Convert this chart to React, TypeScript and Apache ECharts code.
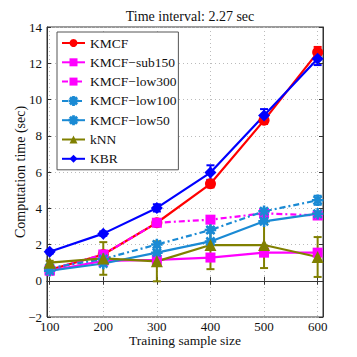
import React, { useEffect, useRef } from "react";
import * as echarts from "echarts";

const sizes = [100, 200, 300, 400, 500, 600];
const xTicks = [100, 200, 300, 400, 500, 600];

const seriesNames = ["KMCF", "KMCF\u2212sub150", "KMCF\u2212low300", "KMCF\u2212low100", "KMCF\u2212low50", "kNN", "KBR"];
const kmcf = [0.6, 1.45, 3.2, 5.35, 8.85, 12.6];
const sub150 = [0.55, 1.1, 1.15, 1.28, 1.55, 1.55];
const low300 = [0.6, 1.45, 3.2, 3.37, 3.72, 3.6];
const low100 = [0.7, 1.2, 2.0, 2.8, 3.83, 4.44];
const low50 = [0.55, 0.95, 1.55, 2.17, 3.28, 3.7];
const knn = [1.0, 1.23, 1.07, 1.97, 1.97, 1.31];
const kbr = [1.6, 2.6, 4.02, 5.97, 9.12, 12.25];

const kmcfErr = [0.05, 0.1, 0.1, 0.2, 0.2, 0.3];
const sub150Err = [0.05, 0.05, 0.05, 0.1, 0.12, 0.15];
const low300Err = [0.05, 0.1, 0.15, 0.1, 0.1, 0.1];
const low100Err = [0.05, 0.1, 0.15, 0.15, 0.15, 0.25];
const low50Err = [0.05, 0.05, 0.1, 0.1, 0.1, 0.1];
const knnErr = [0.1, 0.9, 1.1, 1.33, 1.27, 1.1];
const kbrErr = [0.1, 0.12, 0.2, 0.4, 0.35, 0.35];

const asterisk =
  "path://M0 9H20V11H0Z M9 0H11V20H9Z M2.2 3.6L3.6 2.2L17.8 16.4L16.4 17.8Z M16.4 2.2L17.8 3.6L3.6 17.8L2.2 16.4Z";

const SERIF = "Liberation Serif";

export default function App() {
  const ref = useRef<HTMLDivElement>(null);
  useEffect(() => {
    if (!ref.current) return;
    const chart = echarts.init(ref.current, null, { renderer: "svg" });

    const specs = [
      { name: seriesNames[0], vals: kmcf, err: kmcfErr, color: "#ff0000", symbol: "circle", size: 11, type: "solid" },
      { name: seriesNames[1], vals: sub150, err: sub150Err, color: "#ff00ff", symbol: "rect", size: 10, type: "solid" },
      { name: seriesNames[2], vals: low300, err: low300Err, color: "#ff00ff", symbol: "rect", size: 10, type: [6, 3, 2, 3] },
      { name: seriesNames[3], vals: low100, err: low100Err, color: "#1a8ad4", symbol: asterisk, size: 10, type: [6, 3, 2, 3] },
      { name: seriesNames[4], vals: low50, err: low50Err, color: "#1a8ad4", symbol: asterisk, size: 10, type: "solid" },
      { name: seriesNames[5], vals: knn, err: knnErr, color: "#808000", symbol: "triangle", size: 12, type: "solid" },
      { name: seriesNames[6], vals: kbr, err: kbrErr, color: "#0000ff", symbol: "diamond", size: 12, type: "solid" },
    ];

    const series: any[] = [];
    specs.forEach((s) => {
      series.push({
        type: "custom",
        name: s.name + "-err",
        silent: true,
        data: sizes.map((x, i) => [x, s.vals[i], s.err[i]]),
        encode: { x: 0, y: 1 },
        renderItem: (params: any, api: any) => {
          const x = api.value(0);
          const y = api.value(1);
          const e = api.value(2);
          const top = api.coord([x, y + e]);
          const bot = api.coord([x, y - e]);
          const w = 4;
          const st = { stroke: s.color, lineWidth: 2 };
          return {
            type: "group",
            children: [
              { type: "line", shape: { x1: top[0], y1: top[1], x2: bot[0], y2: bot[1] }, style: st },
              { type: "line", shape: { x1: top[0] - w, y1: top[1], x2: top[0] + w, y2: top[1] }, style: st },
              { type: "line", shape: { x1: bot[0] - w, y1: bot[1], x2: bot[0] + w, y2: bot[1] }, style: st },
            ],
          };
        },
      });
      series.push({
        type: "line",
        name: s.name,
        data: sizes.map((x, i) => [x, s.vals[i]]),
        symbol: s.symbol,
        symbolSize: s.size,
        showAllSymbol: true,
        lineStyle: { color: s.color, width: 2.2, type: s.type },
        itemStyle: {
          color: s.color,
          borderColor: s.color,
          borderWidth: s.symbol === asterisk ? 1.5 : 0,
        },
      });
    });

    const axisFont = { fontFamily: SERIF, fontSize: 13, color: "#111" };

    chart.setOption({
      animation: false,
      backgroundColor: "#fff",
      title: {
        text: "Time interval: 2.27 sec",
        left: 185,
        top: 4,
        textAlign: "center",
        textStyle: { fontFamily: SERIF, fontSize: 14, fontWeight: "normal", color: "#111" },
      },
      graphic: [
        {
          type: "text",
          x: 185,
          y: 340,
          style: {
            text: "Training sample size",
            fontFamily: SERIF,
            fontSize: 13.5,
            fill: "#111",
            textAlign: "center",
            textVerticalAlign: "middle",
          },
        },
        {
          type: "text",
          x: 20,
          y: 172,
          rotation: Math.PI / 2,
          style: {
            text: "Computation time (sec)",
            fontFamily: SERIF,
            fontSize: 14,
            fill: "#111",
            textAlign: "center",
            textVerticalAlign: "middle",
          },
        },
      ],
      grid: {
        left: 47,
        right: 34,
        top: 27,
        bottom: 40,
        show: true,
        borderColor: "#333",
        borderWidth: 1,
        backgroundColor: "transparent",
      },
      legend: {
        data: seriesNames,
        orient: "vertical",
        left: 57,
        top: 32,
        padding: [4, 2, 4, 4],
        itemGap: 5.3,
        itemWidth: 23,
        itemHeight: 10,
        borderColor: "#555",
        borderWidth: 1,
        backgroundColor: "#fff",
        textStyle: { fontFamily: SERIF, fontSize: 13.5, color: "#111" },
      },
      xAxis: [
        {
          type: "value",
          min: 95,
          max: 610,
          axisLine: { show: true, lineStyle: { color: "#333" } },
          axisTick: { show: true, inside: true, length: 4, customValues: xTicks, lineStyle: { color: "#333" } },
          axisLabel: { ...axisFont, margin: 3, customValues: xTicks },
          splitLine: { show: true, lineStyle: { color: "#bbb", type: [1, 3], width: 1 } },
        },
        {
          type: "value",
          position: "top",
          min: 95,
          max: 610,
          axisLine: { show: true, lineStyle: { color: "#333" } },
          axisTick: { show: true, inside: true, length: 4, customValues: xTicks, lineStyle: { color: "#333" } },
          axisLabel: { show: false, customValues: xTicks },
          splitLine: { show: false },
        },
      ],
      yAxis: [
        {
          type: "value",
          min: -2,
          max: 14,
          interval: 2,
          axisLine: { show: true, lineStyle: { color: "#333" } },
          axisTick: { show: true, inside: true, length: 4, lineStyle: { color: "#333" } },
          axisLabel: {
            ...axisFont,
            margin: 5,
            formatter: (v: number) => (v < 0 ? "\u2212" + Math.abs(v) : String(v)),
          },
          splitLine: { show: true, lineStyle: { color: "#bbb", type: [1, 3], width: 1 } },
        },
        {
          type: "value",
          position: "right",
          min: -2,
          max: 14,
          interval: 2,
          axisLine: { show: true, lineStyle: { color: "#333" } },
          axisTick: { show: true, inside: true, length: 4, lineStyle: { color: "#333" } },
          axisLabel: { show: false },
          splitLine: { show: false },
        },
      ],
      series,
    });
    return () => chart.dispose();
  }, []);
  return <div ref={ref} style={{ width: 357, height: 357, margin: -8 }} />;
}
